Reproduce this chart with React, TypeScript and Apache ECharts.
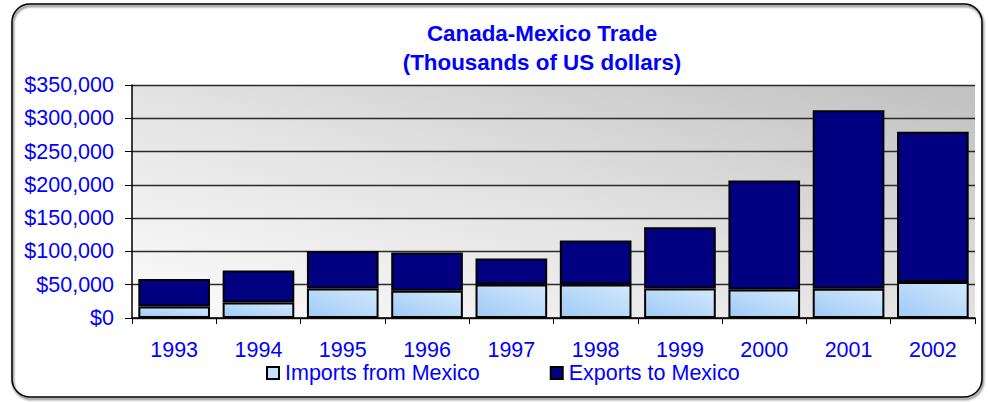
import React, { useEffect, useRef } from "react";
import * as echarts from "echarts";

const years = ["1993", "1994", "1995", "1996", "1997", "1998", "1999", "2000", "2001", "2002"];
const importsFromMexico = [17400, 23400, 44400, 41000, 50400, 50400, 44400, 42900, 44000, 54000];
const exportsToMexico = [41100, 48000, 56100, 57400, 39000, 66000, 92100, 163500, 268000, 225900];
const yTicksMax = 350000;
const yTickStep = 50000;

const FONT = "'Liberation Sans', Arial, sans-serif";
const BLUE = "#0000ff";

export default function App() {
  const ref = useRef<HTMLDivElement>(null);
  useEffect(() => {
    if (!ref.current) return;
    const chart = echarts.init(ref.current, null, { renderer: "svg" });
    chart.setOption({
      animation: false,
      backgroundColor: "#ffffff",
      graphic: [
        {
          type: "rect",
          z: 0,
          shape: { x: 12, y: 4, width: 970, height: 393, r: 18 },
          style: {
            fill: "none",
            stroke: "#000",
            lineWidth: 1.5,
            shadowBlur: 2,
            shadowOffsetX: 1,
            shadowOffsetY: 2,
            shadowColor: "rgba(0,0,0,0.7)",
          },
        },
        {
          type: "text",
          x: 542,
          y: 33,
          style: {
            text: "Canada-Mexico Trade",
            fill: BLUE,
            font: `bold 22.4px ${FONT}`,
            textAlign: "center",
            textVerticalAlign: "middle",
          },
        },
        {
          type: "text",
          x: 542,
          y: 62,
          style: {
            text: "(Thousands of US dollars)",
            fill: BLUE,
            font: `bold 22.4px ${FONT}`,
            textAlign: "center",
            textVerticalAlign: "middle",
          },
        },
      ],
      legend: {
        left: 266,
        top: 362,
        padding: 0,
        itemGap: 70,
        itemWidth: 12,
        itemHeight: 12,
        icon: "rect",
        textStyle: { color: BLUE, fontSize: 21.5, fontFamily: FONT, padding: [0, 0, 0, 1] },
        data: [
          { name: "Imports from Mexico", itemStyle: { color: "#c4e0fb", borderColor: "#000", borderWidth: 2 } },
          { name: "Exports to Mexico", itemStyle: { color: "#000080", borderColor: "#000", borderWidth: 2 } },
        ],
      },
      grid: {
        left: 132,
        right: 13,
        top: 85,
        bottom: 84,
        show: true,
        borderWidth: 0,
        outerBoundsMode: "none",
        backgroundColor: new echarts.graphic.LinearGradient(0, 1, 1, 0, [
          { offset: 0, color: "#fcfcfc" },
          { offset: 0.5, color: "#e2e2e2" },
          { offset: 1, color: "#c0c0c0" },
        ]),
      },
      xAxis: {
        type: "category",
        data: years,
        axisLine: { show: true, lineStyle: { color: "#000", width: 1.5 } },
        axisTick: { show: true, length: 6, alignWithLabel: false, lineStyle: { color: "#000", width: 1 } },
        axisLabel: { color: BLUE, fontSize: 21.5, fontFamily: FONT, margin: 21 },
      },
      yAxis: {
        type: "value",
        min: 0,
        max: yTicksMax,
        interval: yTickStep,
        axisLine: { show: true, lineStyle: { color: "#000", width: 1.5 } },
        axisTick: { show: true, length: 7, lineStyle: { color: "#000", width: 1 } },
        axisLabel: {
          color: BLUE,
          fontSize: 21.5,
          fontFamily: FONT,
          margin: 18,
          formatter: (v: number) => "$" + v.toLocaleString("en-US"),
        },
        splitLine: { show: true, lineStyle: { color: "#2a2a2a", width: 1.4 } },
      },
      series: [
        {
          name: "Imports from Mexico",
          type: "bar",
          stack: "trade",
          barCategoryGap: "15%",
          data: importsFromMexico,
          itemStyle: {
            color: new echarts.graphic.LinearGradient(0, 1, 1, 0, [
              { offset: 0, color: "#9fcbf6" },
              { offset: 1, color: "#d3e8fc" },
            ]),
            borderColor: "#000",
            borderWidth: 2,
          },
        },
        {
          name: "Exports to Mexico",
          type: "bar",
          stack: "trade",
          barCategoryGap: "15%",
          data: exportsToMexico,
          itemStyle: { color: "#000080", borderColor: "#000", borderWidth: 2 },
        },
      ],
    });
    return () => chart.dispose();
  }, []);
  return <div ref={ref} style={{ position: "fixed", left: 0, top: 0, width: 988, height: 402 }} />;
}
